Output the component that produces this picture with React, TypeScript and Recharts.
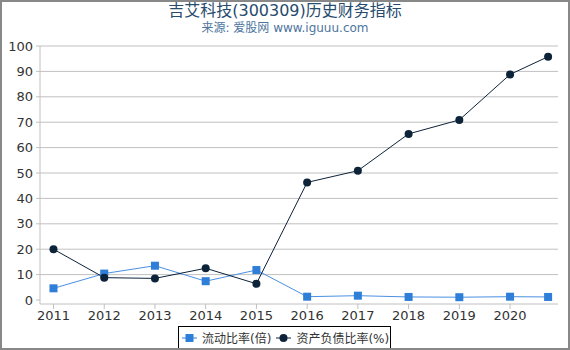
import React from 'react';
import { LineChart, Line, XAxis, YAxis, CartesianGrid } from 'recharts';

const periods = [2011, 2012, 2013, 2014, 2015, 2016, 2017, 2018, 2019, 2020, 2020.75];
const currentRatio = [4.6, 10.4, 13.5, 7.4, 11.8, 1.3, 1.7, 1.2, 1.1, 1.3, 1.2];
const debtRatio = [20.0, 8.8, 8.5, 12.5, 6.4, 46.3, 50.9, 65.4, 70.9, 88.8, 95.8];
const xTicks = [2011, 2012, 2013, 2014, 2015, 2016, 2017, 2018, 2019, 2020];
const yTicks = [0, 10, 20, 30, 40, 50, 60, 70, 80, 90, 100];
const gridValues = [10, 20, 30, 40, 50, 60, 70, 80, 90, 100];
const seriesNames = ['流动比率(倍)', '资产负债比率(%)'];
const title = '吉艾科技(300309)历史财务指标';
const subtitle = '来源: 爱股网 www.iguuu.com';

const data = periods.map((p, i) => ({ x: p, cr: currentRatio[i], dr: debtRatio[i] }));

const BLUE = '#2f7ed8';
const DARK = '#0d233a';
const FONT = '"DejaVu Sans", "Noto Sans CJK SC", sans-serif';

const SquareDot = (props: any) => {
  const { cx, cy } = props;
  if (cx == null || cy == null) return null;
  return <rect x={cx - 4} y={cy - 4} width={8} height={8} fill={BLUE} />;
};

const CircleDot = (props: any) => {
  const { cx, cy } = props;
  if (cx == null || cy == null) return null;
  return <circle cx={cx} cy={cy} r={4} fill={DARK} />;
};

export default function App() {
  return (
    <div
      style={{
        position: 'absolute',
        left: 0,
        top: 0,
        width: 570,
        height: 350,
        boxSizing: 'border-box',
        border: '2px solid #888',
        background: '#fff',
        overflow: 'hidden',
      }}
    >
      <div
        style={{
          position: 'absolute',
          left: 0,
          top: -1,
          width: 566,
          textAlign: 'center',
          fontFamily: FONT,
          fontSize: 16,
          color: '#274b6d',
          lineHeight: '20px',
          height: 20,
        }}
      >
        {title}
      </div>
      <div
        style={{
          position: 'absolute',
          left: 0,
          top: 19,
          width: 566,
          textAlign: 'center',
          fontFamily: FONT,
          fontSize: 12,
          color: '#4d759e',
          lineHeight: '14px',
          height: 14,
        }}
      >
        {subtitle}
      </div>
      <div style={{ position: 'absolute', left: -2, top: -2 }}>
        <LineChart
          width={570}
          height={350}
          data={data}
          margin={{ top: 46, right: 12, bottom: 16, left: 0 }}
        >
          <CartesianGrid
            vertical={false}
            stroke="#c0c0c0"
            horizontalValues={gridValues}
          />
          <XAxis
            dataKey="x"
            type="number"
            domain={[2010.734, 2020.945]}
            ticks={xTicks}
            allowDataOverflow
            stroke="#c0c0c0"
            tick={{ fill: '#333', fontSize: 13, fontFamily: FONT }}
            tickLine={{ stroke: '#c0c0c0' }}
            tickSize={5}
            tickMargin={2}
            height={30}
            interval={0}
          />
          <YAxis
            type="number"
            domain={[-1.575, 100]}
            ticks={yTicks}
            allowDataOverflow
            width={40}
            stroke="#c0c0c0"
            tick={{ fill: '#333', fontSize: 13, fontFamily: FONT }}
            tickLine={{ stroke: '#c0c0c0' }}
            tickSize={4}
            tickMargin={3}
            interval={0}
          />
          <Line
            type="linear"
            dataKey="cr"
            name={seriesNames[0]}
            stroke="#4a90e2"
            strokeWidth={1}
            dot={<SquareDot />}
            activeDot={false}
            isAnimationActive={false}
          />
          <Line
            type="linear"
            dataKey="dr"
            name={seriesNames[1]}
            stroke={DARK}
            strokeWidth={1}
            dot={<CircleDot />}
            activeDot={false}
            isAnimationActive={false}
          />
        </LineChart>
      </div>
      <div
        style={{
          position: 'absolute',
          left: 176,
          top: 324,
          width: 213,
          height: 23,
          boxSizing: 'border-box',
          border: '1px solid #000',
          display: 'flex',
          alignItems: 'center',
          paddingLeft: 3,
          fontFamily: FONT,
          fontSize: 12,
          color: '#333',
          background: '#fff',
          whiteSpace: 'nowrap',
        }}
      >
        <svg width={15} height={10} style={{ marginRight: 5, flexShrink: 0 }}>
          <line x1={0} y1={5} x2={15} y2={5} stroke={BLUE} strokeWidth={1} />
          <rect x={3.5} y={1} width={8} height={8} fill={BLUE} />
        </svg>
        <span style={{ marginRight: 5 }}>{seriesNames[0]}</span>
        <svg width={15} height={10} style={{ marginRight: 5, flexShrink: 0 }}>
          <line x1={0} y1={5} x2={15} y2={5} stroke={DARK} strokeWidth={1} />
          <circle cx={7.5} cy={5} r={4} fill={DARK} />
        </svg>
        <span>{seriesNames[1]}</span>
      </div>
    </div>
  );
}
